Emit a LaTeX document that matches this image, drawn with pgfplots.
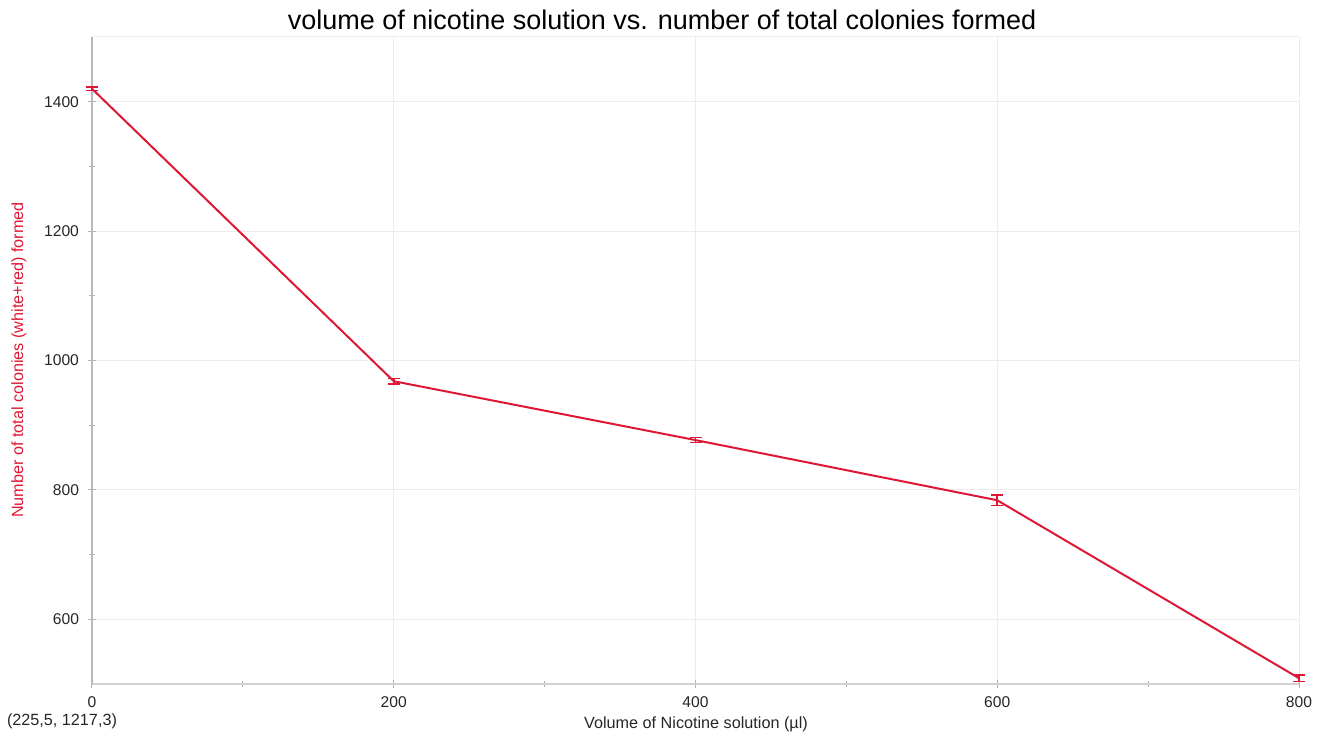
\documentclass[border=0pt]{standalone}
\usepackage{pgfplots}
\pgfplotsset{compat=1.18}
\usepackage{fontspec}
\setmainfont{Liberation Sans}
\definecolor{lpred}{RGB}{222,24,52}
\begin{document}
\begin{tikzpicture}
\begin{axis}[
  scale only axis, width=603.5pt, height=323.5pt,
  xmin=0, xmax=800, ymin=500, ymax=1500,
  xtick={0,200,400,600,800}, ytick={600,800,1000,1200,1400},
  minor xtick={100,300,500,700}, minor ytick={700,900,1100,1300},
  axis x line*=bottom, axis y line*=left,
  x axis line style={draw=gray!35, line width=0.6pt, -},
  y axis line style={draw=gray!55, line width=0.6pt, -},
  grid=major, major grid style={gray!15, line width=0.5pt},
  tick style={gray!60, line width=0.5pt}, major tick length=4pt, minor tick length=3pt,
  tick align=center,
  ticklabel style={font=\fontsize{7.8}{9}\selectfont, text=black!85},
  /pgf/number format/assume math mode=true,
  /pgf/number format/1000 sep={},
  xticklabel style={yshift=-1pt},
  yticklabel style={xshift=-1pt},
  extra y ticks={1500}, extra y tick labels={}, extra y tick style={major tick length=0pt, grid=major},
  clip=false,
]
\addplot[color=lpred, line width=1pt, mark=none,
  error bars/.cd, y dir=both, y explicit,
  error bar style={line width=0.8pt, color=lpred},
  error mark options={rotate=90, mark size=3pt, line width=0.8pt, color=lpred}]
  coordinates {
  (0,1420) +- (0,3)
  (200,968) +- (0,4)
  (400,877) +- (0,4)
  (600,784) +- (0,8)
  (800,509) +- (0,5)
  };
\coordinate (sw) at (rel axis cs:0,0);
\coordinate (ne) at (rel axis cs:1,1);
\end{axis}
\node[font=\fontsize{13.5}{16}\selectfont, text=black] at ([shift={(285pt,332pt)}]sw) {volume of nicotine solution vs. number of total colonies formed};
\node[font=\fontsize{8.1}{10}\selectfont, text=black!85] at ([shift={(302pt,-20pt)}]sw) {Volume of Nicotine solution (µl)};
\node[font=\fontsize{8.1}{10}\selectfont, text=lpred, rotate=90] at ([shift={(-36.5pt,162pt)}]sw) {Number of total colonies (white+red) formed};
\node[font=\fontsize{8.1}{10}\selectfont, text=black!85] at ([shift={(-15pt,-18.5pt)}]sw) {(225,5, 1217,3)};
\pgfresetboundingbox
\path ([shift={(-46pt,-25.5pt)}]sw) rectangle ([shift={(15.5pt,18.5pt)}]ne);
\end{tikzpicture}
\end{document}
